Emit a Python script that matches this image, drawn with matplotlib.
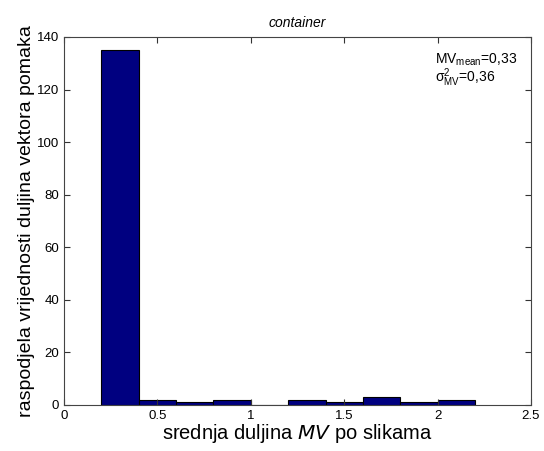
import numpy as np
import matplotlib
matplotlib.use('Agg')
import matplotlib.pyplot as plt

# histogram bins (left edges) and counts
bin_edges = [0.2, 0.4, 0.6, 0.8, 1.0, 1.2, 1.4, 1.6, 1.8, 2.0, 2.2]
counts = [135, 2, 1, 2, 0, 2, 1, 3, 1, 2]
x_ticks = [0, 0.5, 1, 1.5, 2, 2.5]
x_ticklabels = ['0', '0.5', '1', '1.5', '2', '2.5']
y_ticks = [0, 20, 40, 60, 80, 100, 120, 140]

plt.rcParams['font.family'] = ['Liberation Sans', 'DejaVu Sans']

fig = plt.figure(figsize=(5.44, 4.51), dpi=100)
ax = fig.add_axes([0.1176, 0.102, 0.8585, 0.816])

lefts = np.array(bin_edges[:-1])
widths = np.diff(bin_edges)
ax.bar(lefts, counts, width=widths, align='edge', color='#000080',
       edgecolor='black', linewidth=0.8)

ax.set_xlim(0, 2.5)
ax.set_ylim(0, 140)
ax.set_xticks(x_ticks)
ax.set_xticklabels(x_ticklabels)
ax.set_yticks(y_ticks)
ax.tick_params(direction='in', top=True, right=True, labelsize=9.5,
               length=4, width=0.8, colors='#333333', labelcolor='black')
for s in ax.spines.values():
    s.set_color('#444444')
    s.set_linewidth(0.8)

ax.set_xlabel('srednja duljina $\\it{MV}$ po slikama', fontsize=14.5, labelpad=0)
ax.set_ylabel('raspodjela vrijednosti duljina vektora pomaka', fontsize=14, labelpad=1)
ax.set_title('container', fontsize=10, style='italic', pad=7)

ax.text(0.795, 0.96, 'MV$_{\\mathregular{mean}}$=0,33', transform=ax.transAxes,
        fontsize=10, va='top', ha='left')
ax.text(0.795, 0.92, '$\\mathregular{\\sigma^2_{MV}}$=0,36', transform=ax.transAxes,
        fontsize=10, va='top', ha='left')

fig.savefig('out.png', dpi=100)
